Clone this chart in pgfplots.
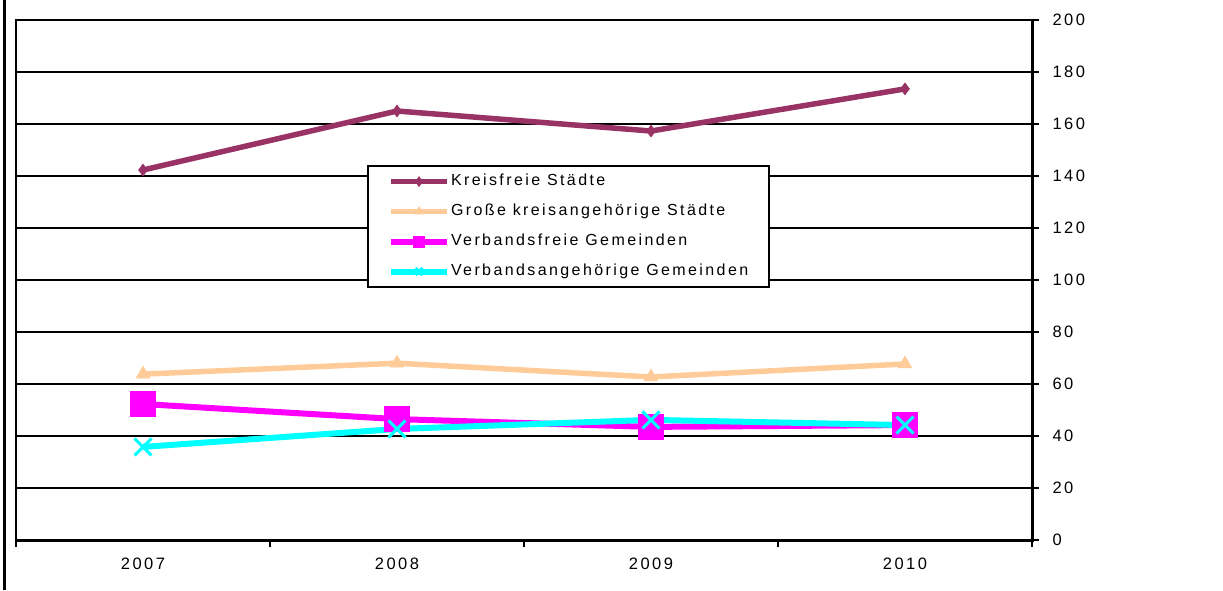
\documentclass[border=0pt]{standalone}
\usepackage{pgfplots}
\pgfplotsset{compat=1.18}
\usepackage{fontspec}
\setmainfont{Liberation Sans}
\newfontfamily\chartfont[LetterSpace=15]{Liberation Sans}

\definecolor{kreis}{RGB}{153,51,102}
\definecolor{gross}{RGB}{255,204,153}
\definecolor{vfrei}{RGB}{255,0,255}
\definecolor{vang}{RGB}{0,255,255}

\begin{document}
\begin{tikzpicture}
	\path[use as bounding box] (0pt,0pt) rectangle (1223pt,590pt);
	\draw[line width=2.5pt] (4.5pt,0pt) -- (4.5pt,590pt);
	\begin{axis}[
			at                = {(16pt,50pt)},
			anchor            = south west,
			scale only axis,
			width             = 1016pt,
			height            = 520pt,
			xmin              = -0.5,
			xmax              = 3.5,
			ymin              = 0,
			ymax              = 200,
			ytick             = {0,20,...,200},
			ytick pos         = right,
			yticklabel pos    = right,
			ymajorgrids,
			grid style        = {black, line width=1.6pt},
			axis line style   = {black, line width=1.6pt},
			xtick             = {0,1,2,3},
			xticklabels       = {2007,2008,2009,2010},
			major x tick style = {draw=none},
			minor xtick       = {-0.5,0.5,1.5,2.5,3.5},
			xtick pos         = bottom,
			tick align        = outside,
			major tick length = 7pt,
			minor tick length = 7pt,
			tick style        = {black, line width=2pt},
			tick label style  = {font=\chartfont\fontsize{16.5}{18}\selectfont},
			xticklabel style  = {yshift=-7pt},
			yticklabel style  = {xshift=10pt},
			/pgf/number format/assume math mode=true,
			legend style      = {
				at={(axis description cs:0.3455,0.721)},
				anchor=north west,
				draw=black,
				line width=2pt,
				inner xsep=20pt,
				inner ysep=7.5pt,
				row sep=14pt,
				font=\chartfont\fontsize{16}{17}\selectfont,
				nodes={inner sep=1pt, text height=11pt, text depth=3pt},
			},
			legend cell align = left,
			legend image code/.code = {
				\draw[mark repeat=2, mark phase=2, mark size=5pt]
				plot coordinates {(0pt,0pt) (28pt,0pt) (56pt,0pt)};
			},
			clip              = false
		]

		\addplot [color=kreis, line width=5.5pt, mark=diamond*, mark size=6pt,
			mark options={line width=0.5pt}]
		coordinates {(0,142.3) (1,165.0) (2,157.3) (3,173.5)};
		\addlegendentry{Kreisfreie Städte}

		\addplot [color=gross, line width=5.5pt, mark=triangle*, mark size=8pt,
			mark options={line width=0.5pt}]
		coordinates {(0,63.8) (1,68.0) (2,62.7) (3,67.7)};
		\addlegendentry{Große kreisangehörige Städte}

		\addplot [color=vfrei, line width=6pt, mark=square*, mark size=12pt,
			mark options={line width=2pt}]
		coordinates {(0,52.3) (1,46.5) (2,43.5) (3,44.2)};
		\addlegendentry{Verbandsfreie Gemeinden}

		\addplot [color=vang, line width=6pt, mark=x, mark size=12pt,
			mark options={line width=3pt}]
		coordinates {(0,35.8) (1,42.7) (2,46.2) (3,44.2)};
		\addlegendentry{Verbandsangehörige Gemeinden}

		\draw[black, line width=3pt] (rel axis cs:0,0) -- (rel axis cs:1,0) -- (rel axis cs:1,1);
	\end{axis}
\end{tikzpicture}
\end{document}
